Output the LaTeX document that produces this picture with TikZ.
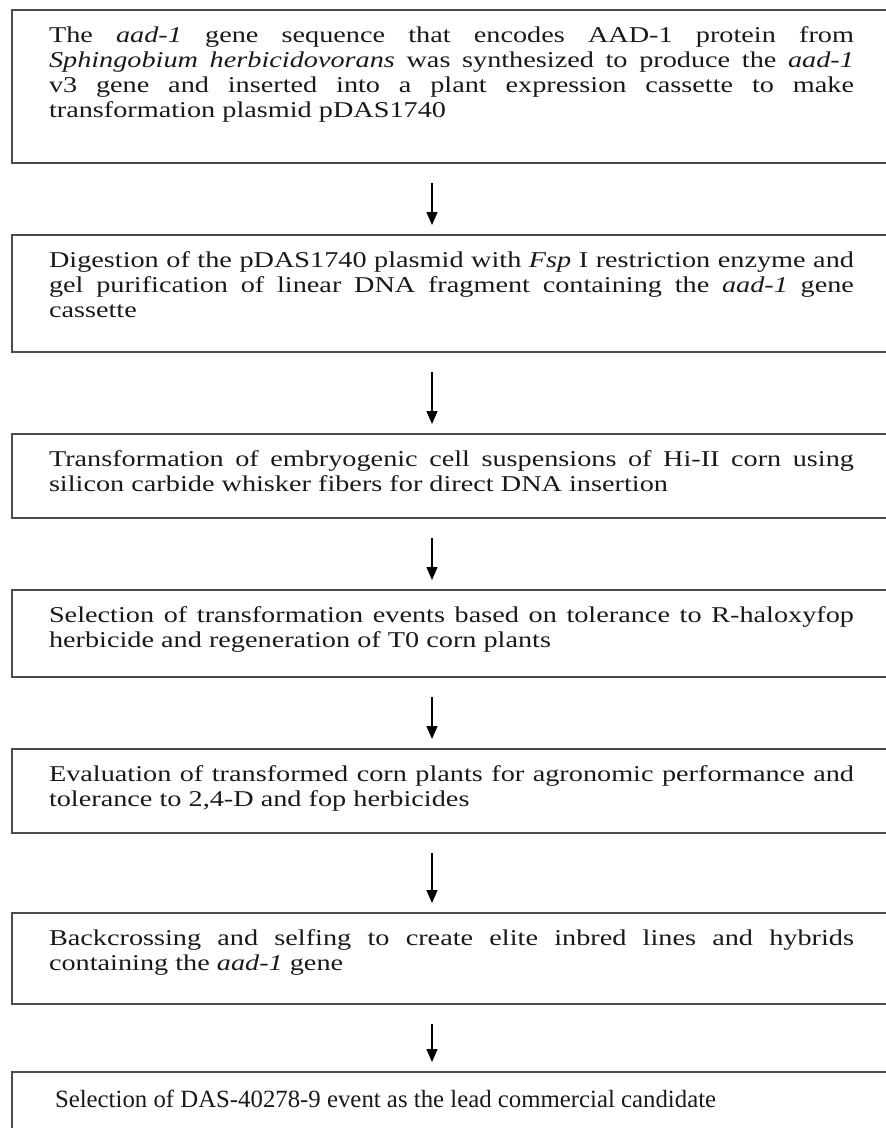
\documentclass[tikz,border=0pt]{standalone}
\usepackage{fontspec}
\setmainfont[FakeStretch=1.25]{Liberation Serif}
\newfontfamily\plainserif{Liberation Serif}
\usetikzlibrary{arrows.meta}
\tolerance=9999
\emergencystretch=20pt

\begin{document}
\begin{tikzpicture}[x=1pt,y=-1pt,
   stepbox/.style={draw=black!70,line width=1.8pt,anchor=north west,outer sep=0pt,
     text width=805pt,inner xsep=37pt,inner ysep=0pt,text height=32pt,
     align=justify,text=black!90,
     font=\fontsize{22.6pt}{25pt}\selectfont},
   flowarrow/.style={line width=1.4pt,-{Triangle[width=11pt,length=13pt]},
     shorten <=20pt,shorten >=10pt}]
\useasboundingbox (0,0) rectangle (886,1128);
\clip (0,0) rectangle (886,1128);
\node[stepbox,text depth=121pt] (plasmid) at (12,10)
  {The \textit{aad-1} gene sequence that encodes AAD-1 protein from\linebreak
   \textit{Sphingobium herbicidovorans} was synthesized to produce the \textit{aad-1}\linebreak
   v3 gene and inserted into a plant expression cassette to make\linebreak
   transformation plasmid pDAS1740};
\node[stepbox,text depth=85pt] (digest) at (12,235)
  {Digestion of the pDAS1740 plasmid with \textit{Fsp} I restriction enzyme and\linebreak
   gel purification of linear DNA fragment containing the \textit{aad-1} gene\linebreak
   cassette};
\node[stepbox,text depth=52pt] (whisker) at (12,434)
  {Transformation of embryogenic cell suspensions of Hi-II corn using\linebreak
   silicon carbide whisker fibers for direct DNA insertion};
\node[stepbox,text depth=55pt] (select) at (12,590)
  {Selection of transformation events based on tolerance to R-haloxyfop\linebreak
   herbicide and regeneration of T0 corn plants};
\node[stepbox,text depth=52pt] (evaluate) at (12,749)
  {Evaluation of transformed corn plants for agronomic performance and\linebreak
   tolerance to 2,4-D and fop herbicides};
\node[stepbox,text depth=59pt] (backcross) at (12,913)
  {Backcrossing and selfing to create elite inbred lines and hybrids\linebreak
   containing the \textit{aad-1} gene};
\node[stepbox,text depth=60pt,text height=35pt,inner xsep=43pt,text width=793pt,
      font=\plainserif\fontsize{24.8pt}{27pt}\selectfont] (lead) at (12,1072)
  {Selection of DAS-40278-9 event as the lead commercial candidate};
\draw[flowarrow] ([xshift=-19.5pt]plasmid.south) -- ([xshift=-19.5pt]digest.north);
\draw[flowarrow] ([xshift=-19.5pt]digest.south) -- ([xshift=-19.5pt]whisker.north);
\draw[flowarrow] ([xshift=-19.5pt]whisker.south) -- ([xshift=-19.5pt]select.north);
\draw[flowarrow] ([xshift=-19.5pt]select.south) -- ([xshift=-19.5pt]evaluate.north);
\draw[flowarrow] ([xshift=-19.5pt]evaluate.south) -- ([xshift=-19.5pt]backcross.north);
\draw[flowarrow] ([xshift=-19.5pt]backcross.south) -- ([xshift=-19.5pt]lead.north);
\end{tikzpicture}
\end{document}
